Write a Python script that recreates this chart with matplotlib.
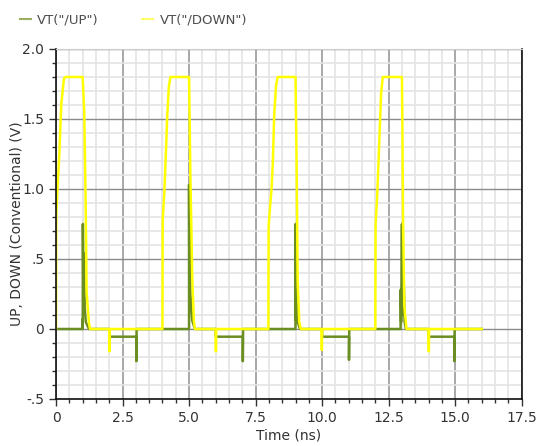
import matplotlib
matplotlib.use("Agg")
import matplotlib.pyplot as plt
from matplotlib.ticker import MultipleLocator, FixedLocator

# UP waveform (ns, V)
up_t = [0, 1.0, 1.0, 1.005, 1.01, 1.03, 1.05, 1.08, 1.12, 1.24, 2.0, 2.0, 3.02, 3.02, 3.03,
        5.0, 5.0, 5.01, 5.02, 5.05, 5.12, 5.22, 6.0, 6.0, 7.02, 7.02, 7.03,
        9.0, 9.0, 9.02, 9.05, 9.08, 9.17, 10.0, 10.0, 11.01, 11.01, 11.02,
        12.95, 12.95, 12.97, 13.0, 13.02, 13.06, 13.1, 13.15, 14.0, 14.0, 14.97, 14.97, 14.98, 16.0]
up_v = [0, 0, 0.07, 0.0, 0.75, 0.2, 0.54, 0.15, 0.05, 0, 0, -0.055, -0.055, -0.23, 0,
        0, 1.03, 0.2, 0.75, 0.25, 0.06, 0, 0, -0.055, -0.055, -0.23, 0,
        0, 0.75, 0.06, 0.34, 0.05, 0, 0, -0.055, -0.055, -0.22, 0,
        0, 0.28, 0.05, 0.75, 0.1, 0.39, 0.05, 0, 0, -0.055, -0.055, -0.23, 0, 0]

# DOWN waveform (ns, V)
down_t = [0, 0.01, 0.05, 0.12, 0.2, 0.3, 0.36, 1.0, 1.06, 1.11, 1.15, 1.24, 1.28, 2.0, 2.01, 2.02,
          4.0, 4.01, 4.07, 4.12, 4.18, 4.24, 4.3, 5.0, 5.05, 5.12, 5.18, 5.22, 6.0, 6.01, 6.02,
          7.98, 7.99, 8.05, 8.1, 8.15, 8.2, 8.27, 8.33, 9.0, 9.04, 9.08, 9.14, 9.2, 9.98, 9.99, 10.0,
          12.0, 12.01, 12.07, 12.12, 12.18, 12.22, 12.28, 13.0, 13.02, 13.04, 13.09, 13.17, 14.0, 14.01, 14.02, 16.0]
down_v = [0, 0.80, 0.98, 1.23, 1.61, 1.79, 1.80, 1.80, 1.56, 0.97, 0.26, 0.04, 0, 0, -0.16, 0,
          0, 0.78, 0.97, 1.21, 1.52, 1.73, 1.80, 1.80, 1.09, 0.37, 0.06, 0, 0, -0.16, 0,
          0, 0.73, 0.89, 1.00, 1.20, 1.53, 1.74, 1.80, 1.80, 1.22, 0.34, 0.05, 0, 0, -0.15, 0,
          0, 0.75, 0.95, 1.20, 1.50, 1.69, 1.80, 1.80, 1.37, 0.80, 0.16, 0, 0, -0.16, 0, 0]

x_ticks = [0, 2.5, 5.0, 7.5, 10.0, 12.5, 15.0, 17.5]
x_labels = ["0", "2.5", "5.0", "7.5", "10.0", "12.5", "15.0", "17.5"]
y_ticks = [-0.5, 0, 0.5, 1.0, 1.5, 2.0]
y_labels = ["-.5", "0", ".5", "1.0", "1.5", "2.0"]

fig = plt.figure(figsize=(5.39, 4.46), dpi=100)
ax = fig.add_axes([56 / 539, 47 / 446, 465.7 / 539, 350 / 446])

l_up, = ax.plot(up_t, up_v, color="#6b8e23", lw=1.8, label='VT("/UP")')
l_dn, = ax.plot(down_t, down_v, color="#ffff00", lw=1.8, label='VT("/DOWN")')

ax.set_xlim(0, 17.5)
ax.set_ylim(-0.5, 2.0)
ax.xaxis.set_major_locator(FixedLocator(x_ticks))
ax.set_xticklabels(x_labels)
ax.yaxis.set_major_locator(FixedLocator(y_ticks))
ax.set_yticklabels(y_labels)
ax.xaxis.set_minor_locator(MultipleLocator(0.5))
ax.yaxis.set_minor_locator(MultipleLocator(0.1))

ax.grid(which="minor", color="#e4e4e4", lw=1.2)
ax.grid(which="major", axis="y", color="#8a8a8a", lw=1.0)
ax.grid(which="major", axis="x", color="#a8a8a8", lw=1.4)
ax.set_axisbelow(True)

ax.tick_params(which="major", direction="out", length=5, width=1, colors="#333333",
               labelsize=10, labelcolor="#333333")
ax.tick_params(which="minor", direction="out", length=3, width=1, colors="#333333")

for side in ["left", "bottom", "right"]:
    ax.spines[side].set_color("#111111")
    ax.spines[side].set_linewidth(1.2)
ax.spines["top"].set_color("#cccccc")

ax.set_xlabel("Time (ns)", fontsize=10, color="#333333", labelpad=3)
ax.set_ylabel("UP, DOWN (Conventional) (V)", fontsize=10, color="#333333", labelpad=-1)

leg = fig.legend(handles=[l_up, l_dn], loc="upper left", bbox_to_anchor=(0.015, 0.997),
                 ncol=2, frameon=False, fontsize=9.5, handlelength=0.8, handletextpad=0.5,
                 columnspacing=3.3)
for txt in leg.get_texts():
    txt.set_color("#4d4d4d")
leg.legend_handles[0].set_color("#9ab060")
leg.legend_handles[1].set_color("#ffff66")
for h in leg.legend_handles:
    h.set_linewidth(1.5)

fig.savefig("out.png", dpi=100)
